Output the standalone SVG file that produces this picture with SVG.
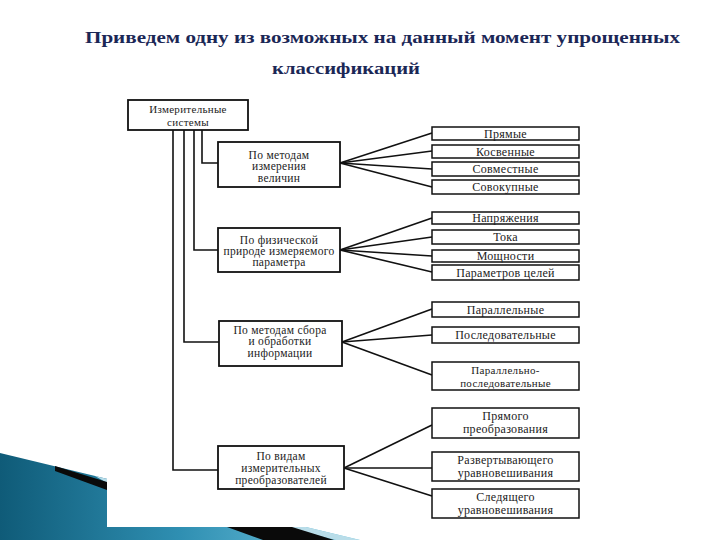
<svg xmlns="http://www.w3.org/2000/svg" width="720" height="540" viewBox="0 0 720 540">
<defs>
<linearGradient id="blueG" x1="0" y1="0" x2="1" y2="0">
<stop offset="0" stop-color="#0f5b78"/>
<stop offset="0.5" stop-color="#2f8fb2"/>
<stop offset="1" stop-color="#74c7e0"/>
</linearGradient>
<style>
.box{fill:#fff;stroke:#111;stroke-width:1.8}
.leaf{fill:#fff;stroke:#111;stroke-width:1.5}
.t{font-family:"Liberation Serif","Times New Roman",serif;font-size:12px;fill:#222;text-anchor:middle;letter-spacing:0.3px}
.s{font-size:11px}
.m{font-family:"Liberation Serif","Times New Roman",serif;font-size:11.5px;fill:#222;text-anchor:middle;letter-spacing:0.3px}
.title{font-family:"Liberation Serif","DejaVu Serif",serif;font-weight:bold;font-size:17px;fill:#1b2756}
.c{fill:none;stroke:#111;stroke-width:1.6}
</style>
</defs>
<rect width="720" height="540" fill="#fff"/>
<!-- decoration -->
<polygon points="0,453 360,540 0,540" fill="url(#blueG)"/>
<polygon points="95,476 360,540 336,540 107,483" fill="#b9dde9"/>
<polygon points="55,466 107,482 292,527 334,540 263,540 227,527 107,490 55,471" fill="#0a0a0a"/>
<rect x="107" y="85" width="495" height="442" fill="#fff"/>
<!-- title -->
<text class="title" x="85" y="43" textLength="595" lengthAdjust="spacingAndGlyphs">Приведем одну из возможных на данный момент упрощенных</text>
<text class="title" x="272" y="74" textLength="148" lengthAdjust="spacingAndGlyphs">классификаций</text>
<!-- connectors -->
<g id="connectors">
<polyline class="c" points="202,130 202,163 218,163"/>
<polyline class="c" points="194,130 194,250 218,250"/>
<polyline class="c" points="184,130 184,342 219,342"/>
<polyline class="c" points="173,130 173,470 218,470"/>
<line class="c" x1="340" y1="163" x2="432" y2="133"/>
<line class="c" x1="340" y1="163" x2="432" y2="151"/>
<line class="c" x1="340" y1="163" x2="432" y2="169"/>
<line class="c" x1="340" y1="163" x2="432" y2="187"/>
<line class="c" x1="340" y1="250" x2="432" y2="218"/>
<line class="c" x1="340" y1="250" x2="432" y2="237"/>
<line class="c" x1="340" y1="250" x2="432" y2="256"/>
<line class="c" x1="340" y1="250" x2="432" y2="272"/>
<line class="c" x1="342" y1="342" x2="432" y2="309"/>
<line class="c" x1="342" y1="342" x2="432" y2="335"/>
<line class="c" x1="342" y1="342" x2="432" y2="375"/>
<line class="c" x1="344" y1="468" x2="432" y2="425"/>
<line class="c" x1="344" y1="468" x2="432" y2="468"/>
<line class="c" x1="344" y1="468" x2="432" y2="496"/>
</g>
<!-- root -->
<g id="root">
<rect class="box" x="128" y="100" width="120" height="30"/>
<text class="t s" x="188" y="113">Измерительные</text>
<text class="t s" x="188" y="126">системы</text>
</g>
<!-- mid boxes -->
<g id="m1">
<rect class="box" x="218" y="142" width="122" height="45"/>
<text class="m" x="279" y="159">По методам</text>
<text class="m" x="279" y="170">измерения</text>
<text class="m" x="279" y="182">величин</text>
</g>
<g id="m2">
<rect class="box" x="218" y="228" width="122" height="44"/>
<text class="m" x="279" y="244">По физической</text>
<text class="m" x="279" y="255">природе измеряемого</text>
<text class="m" x="279" y="266">параметра</text>
</g>
<g id="m3">
<rect class="box" x="219" y="321" width="123" height="45"/>
<text class="m" x="280" y="334">По методам сбора</text>
<text class="m" x="280" y="345">и обработки</text>
<text class="m" x="280" y="357">информации</text>
</g>
<g id="m4">
<rect class="box" x="218" y="446" width="126" height="43"/>
<text class="m" x="281" y="460">По видам</text>
<text class="m" x="281" y="472">измерительных</text>
<text class="m" x="281" y="484">преобразователей</text>
</g>
<!-- leaves -->
<g id="l1"><rect class="leaf" x="432" y="127" width="147" height="13"/><text class="t" x="505.5" y="137.5">Прямые</text></g>
<g id="l2"><rect class="leaf" x="432" y="145" width="147" height="13"/><text class="t" x="505.5" y="155.5">Косвенные</text></g>
<g id="l3"><rect class="leaf" x="432" y="162" width="147" height="14"/><text class="t" x="505.5" y="173">Совместные</text></g>
<g id="l4"><rect class="leaf" x="432" y="180" width="147" height="14"/><text class="t" x="505.5" y="191">Совокупные</text></g>
<g id="l5"><rect class="leaf" x="432" y="212" width="147" height="12"/><text class="t" x="505.5" y="222">Напряжения</text></g>
<g id="l6"><rect class="leaf" x="432" y="230" width="147" height="14"/><text class="t" x="505.5" y="241">Тока</text></g>
<g id="l7"><rect class="leaf" x="432" y="250" width="147" height="12"/><text class="t" x="505.5" y="260">Мощности</text></g>
<g id="l8"><rect class="leaf" x="432" y="265" width="147" height="15"/><text class="t" x="505.5" y="276.5">Параметров целей</text></g>
<g id="l9"><rect class="leaf" x="432" y="302" width="147" height="15"/><text class="t" x="505.5" y="313.5">Параллельные</text></g>
<g id="l10"><rect class="leaf" x="432" y="327" width="147" height="16"/><text class="t" x="505.5" y="339">Последовательные</text></g>
<g id="l11"><rect class="leaf" x="432" y="362" width="147" height="28"/><text class="t s" x="505.5" y="373.5">Параллельно-</text><text class="t s" x="505.5" y="386.5">последовательные</text></g>
<g id="l12"><rect class="leaf" x="432" y="408" width="147" height="30"/><text class="t" x="505.5" y="420">Прямого</text><text class="t" x="505.5" y="433">преобразования</text></g>
<g id="l13"><rect class="leaf" x="432" y="452" width="147" height="29"/><text class="t" x="505.5" y="464">Развертывающего</text><text class="t" x="505.5" y="477">уравновешивания</text></g>
<g id="l14"><rect class="leaf" x="432" y="489" width="147" height="29"/><text class="t" x="505.5" y="501">Следящего</text><text class="t" x="505.5" y="514">уравновешивания</text></g>
</svg>
